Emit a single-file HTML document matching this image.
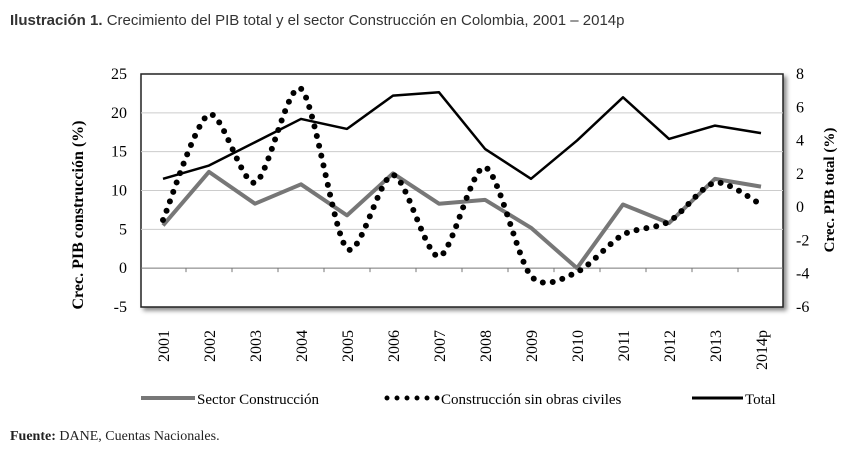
<!DOCTYPE html>
<html><head><meta charset="utf-8"><style>
body{margin:0;background:#fff;width:854px;height:453px;overflow:hidden;}
svg text{font-family:"Liberation Serif",serif;}
</style></head><body>
<svg width="854" height="453">
<defs><filter id="sh" x="-5%" y="-5%" width="112%" height="115%"><feDropShadow dx="3" dy="3" stdDeviation="2" flood-color="#000" flood-opacity="0.45"/></filter></defs>
<text x="10" y="25" font-size="15" fill="#333" style="font-family:'Liberation Sans',sans-serif"><tspan font-weight="bold">Ilustración 1.</tspan> Crecimiento del PIB total y el sector Construcción en Colombia, 2001 – 2014p</text>
<rect x="141" y="74" width="642" height="233" fill="#fff" stroke="#222" stroke-width="1.5" filter="url(#sh)"/>
<g id="grid"></g><g id="ticks"></g><g id="series"></g><g id="labels"></g>
<text transform="translate(83,215) rotate(-90)" text-anchor="middle" font-size="16" font-weight="bold">Crec. PIB construcción  (%)</text>
<text transform="translate(834,190) rotate(-90)" text-anchor="middle" font-size="15" font-weight="bold">Crec. PIB total (%)</text>
<g>
<line x1="141" y1="398" x2="195" y2="398" stroke="#777" stroke-width="4"/>
<text x="197" y="404" font-size="15">Sector Construcción</text>
<line x1="387" y1="398" x2="438" y2="398" stroke="#000" stroke-width="5" stroke-linecap="round" stroke-dasharray="0 10"/>
<text x="441" y="404" font-size="15">Construcción sin obras civiles</text>
<line x1="692" y1="398" x2="743" y2="398" stroke="#000" stroke-width="3"/>
<text x="745" y="404" font-size="15">Total</text>
</g>
<text x="10" y="440" font-size="14" fill="#222"><tspan font-weight="bold">Fuente:</tspan> DANE, Cuentas Nacionales.</text>
</svg>
<script>
const categories=["2001","2002","2003","2004","2005","2006","2007","2008","2009","2010","2011","2012","2013","2014p"];
const sectorConstruccion=[5.5,12.4,8.3,10.8,6.8,12.2,8.3,8.8,5.2,0,8.2,5.8,11.5,10.5];
const sinObrasCiviles=[6.2,19.8,11,23.1,2.5,12,1.5,13,-1.0,-0.5,4.3,6,11,8.2];
const totalPIB=[1.7,2.5,3.9,5.3,4.7,6.7,6.9,3.5,1.7,4.0,6.6,4.1,4.9,4.45];
const leftTicks=[-5,0,5,10,15,20,25];
const rightTicks=[-6,-4,-2,0,2,4,6,8];
const NS="http://www.w3.org/2000/svg";
const plotTop=74,plotBot=307;
const x=i=>163+i*46;
const yL=v=>plotBot-(v+5)/30*(plotBot-plotTop);
const yR=v=>plotBot-(v+6)/14*(plotBot-plotTop);
function mk(t,a,p){const e=document.createElementNS(NS,t);for(const k in a)e.setAttribute(k,a[k]);document.getElementById(p).appendChild(e);return e;}
leftTicks.forEach(v=>{
 if(v>-5&&v<25){const l=mk('line',{x1:141,x2:783,y1:yL(v),y2:yL(v),stroke:v===0?'#777':'#ccc','stroke-width':1},'grid');
 
 }
 const t=mk('text',{x:127,y:yL(v)+5,'text-anchor':'end','font-size':16},'labels');t.textContent=v;
 
 
});
rightTicks.forEach(v=>{
 const t=mk('text',{x:796,y:yR(v)+5,'font-size':16},'labels');t.textContent=v;
 
 
});
categories.forEach((c,i)=>{
 if(i<categories.length-1){const tk=mk('line',{x1:x(i)+23,x2:x(i)+23,y1:yL(0),y2:yL(0)+4,stroke:'#777'},'ticks');
 
 }
 const t=mk('text',{transform:`translate(${x(i)+6},330) rotate(-90)`,'text-anchor':'end','font-size':16},'labels');t.textContent=c;
 
 
});
function lin(arr,yf){return arr.map((v,i)=>(i?'L':'M')+x(i)+','+yf(v)).join(' ');}
function smooth(arr,yf){const p=arr.map((v,i)=>[x(i),yf(v)]);let d='M'+p[0];const k=0.14;
 for(let i=0;i<p.length-1;i++){const p0=p[Math.max(0,i-1)],p1=p[i],p2=p[i+1],p3=p[Math.min(p.length-1,i+2)];
 const c1=[p1[0]+(p2[0]-p0[0])*k,p1[1]+(p2[1]-p0[1])*k],c2=[p2[0]-(p3[0]-p1[0])*k,p2[1]-(p3[1]-p1[1])*k];
 d+=` C${c1} ${c2} ${p2}`;}return d;}
const s1=mk('path',{d:lin(sectorConstruccion,yL),fill:'none',stroke:'#777','stroke-width':4,'stroke-linejoin':'round'},'series');


const s2=mk('path',{d:smooth(sinObrasCiviles,yL),fill:'none',stroke:'#000','stroke-width':6,'stroke-linecap':'round','stroke-dasharray':'0 10'},'series');


const s3=mk('path',{d:lin(totalPIB,yR),fill:'none',stroke:'#000','stroke-width':2.5,'stroke-linejoin':'round'},'series');


</script>
</body></html>
